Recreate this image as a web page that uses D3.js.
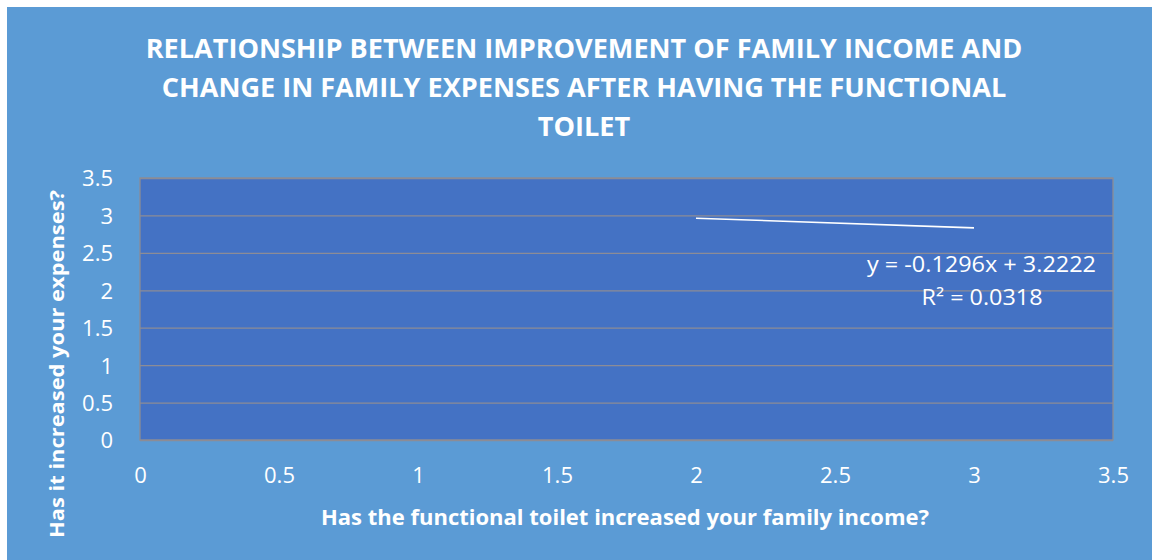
<!DOCTYPE html>
<html>
<head>
<meta charset="utf-8">
<script src="https://cdn.jsdelivr.net/npm/d3@7/dist/d3.min.js"></script>
<style>
  html, body { margin: 0; padding: 0; background: #ffffff; }
  svg { display: block; }
  text { font-family: "Open Sans", "Noto Sans", sans-serif; fill: #ffffff; }
</style>
</head>
<body>
<svg id="chart" width="1152" height="560"></svg>
<script>
// Axis ticks
const xTicks = [0, 0.5, 1, 1.5, 2, 2.5, 3, 3.5];
const yTicks = [0, 0.5, 1, 1.5, 2, 2.5, 3, 3.5];
const xTickLabels = ["0", "0.5", "1", "1.5", "2", "2.5", "3", "3.5"];
const yTickLabels = ["0", "0.5", "1", "1.5", "2", "2.5", "3", "3.5"];

// Linear trendline fitted to the survey responses
const trendXRange = [2, 3];
const trendSlope = -0.1296;
const trendIntercept = 3.2222;
const trendR2 = 0.0318;

const titleLines = [
  "RELATIONSHIP BETWEEN IMPROVEMENT OF FAMILY INCOME AND",
  "CHANGE IN FAMILY EXPENSES AFTER HAVING THE FUNCTIONAL",
  "TOILET"
];
const xTitle = "Has the functional toilet increased your family income?";
const yTitle = "Has it increased your expenses?";

const W = 1152, H = 560;
const svg = d3.select("#chart");

// chart background
svg.append("rect").attr("x", 7).attr("y", 7).attr("width", W - 7).attr("height", H - 7)
  .attr("fill", "#5b9bd5");

const plot = { left: 140, right: 1113, top: 178, bottom: 440 };

const x = d3.scaleLinear().domain([0, 3.5]).range([plot.left, plot.right]);
const y = d3.scaleLinear().domain([0, 3.5]).range([plot.bottom, plot.top]);

// plot area
svg.append("rect")
  .attr("x", plot.left).attr("y", plot.top)
  .attr("width", plot.right - plot.left).attr("height", plot.bottom - plot.top)
  .attr("fill", "#4472c4");

// horizontal gridlines
svg.append("g")
  .attr("transform", `translate(${plot.left},0)`)
  .call(d3.axisLeft(y).tickValues(yTicks).tickSize(-(plot.right - plot.left)).tickFormat(""))
  .call(g => g.select(".domain").remove())
  .call(g => g.selectAll("line").attr("stroke", "#8c8c96").attr("stroke-width", 1.3));

// plot border
svg.append("rect")
  .attr("x", plot.left).attr("y", plot.top)
  .attr("width", plot.right - plot.left).attr("height", plot.bottom - plot.top)
  .attr("fill", "none").attr("stroke", "#8c8c96").attr("stroke-width", 1.3);

// y axis labels
svg.append("g")
  .attr("transform", `translate(${plot.left - 27},0)`)
  .call(d3.axisLeft(y).tickValues(yTicks).tickSize(0).tickPadding(0)
    .tickFormat((d, i) => yTickLabels[i]))
  .call(g => g.select(".domain").remove())
  .call(g => g.selectAll("text")
    .attr("font-size", 22).attr("fill", "#ffffff")
    .attr("font-family", "'Open Sans', sans-serif")
    .attr("dy", "0.36em"));

// x axis labels
svg.append("g")
  .attr("transform", `translate(0,${plot.bottom})`)
  .call(d3.axisBottom(x).tickValues(xTicks).tickSize(0).tickPadding(0)
    .tickFormat((d, i) => xTickLabels[i]))
  .call(g => g.select(".domain").remove())
  .call(g => g.selectAll("text")
    .attr("font-size", 22).attr("fill", "#ffffff")
    .attr("font-family", "'Open Sans', sans-serif")
    .attr("dy", null).attr("y", 43));

// trendline
const trendPts = trendXRange.map(v => [v, trendSlope * v + trendIntercept]);
svg.append("path")
  .datum(trendPts)
  .attr("d", d3.line().x(d => x(d[0])).y(d => y(d[1])))
  .attr("stroke", "#ffffff").attr("stroke-width", 1.6).attr("fill", "none");

// fit a text element's font-size to a target width
function fitWidth(sel, target) {
  const node = sel.node();
  const fs = parseFloat(sel.attr("font-size"));
  const w = node.getComputedTextLength();
  sel.attr("font-size", (fs * target / w).toFixed(2));
}

// squeeze a text element horizontally to a target width (narrow face look)
function squeeze(sel, target) {
  sel.attr("textLength", target).attr("lengthAdjust", "spacingAndGlyphs");
}

// trendline equation
const eq = svg.append("text")
  .attr("x", 1096).attr("y", 272).attr("text-anchor", "end")
  .attr("font-size", 21)
  .text(`y = ${trendSlope}x + ${trendIntercept}`);
squeeze(eq, 229);

const r2 = svg.append("text")
  .attr("x", 982).attr("y", 305).attr("text-anchor", "middle")
  .attr("font-size", 21);
r2.append("tspan").text("R");
r2.append("tspan").text("²");
r2.append("tspan").text(` = ${trendR2}`);
squeeze(r2, 121);

// title
const titleBaselines = [58, 97, 136];
const t0 = svg.append("text").attr("x", 584).attr("y", titleBaselines[0])
  .attr("text-anchor", "middle").attr("font-weight", "bold").attr("font-size", 26)
  .text(titleLines[0]);
fitWidth(t0, 877);
const titleSize = t0.attr("font-size");
titleLines.slice(1).forEach((line, i) => {
  svg.append("text").attr("x", 584).attr("y", titleBaselines[i + 1])
    .attr("text-anchor", "middle").attr("font-weight", "bold").attr("font-size", titleSize)
    .text(line);
});

// axis titles
const xt = svg.append("text").attr("x", 625).attr("y", 525)
  .attr("text-anchor", "middle").attr("font-weight", "bold").attr("font-size", 21)
  .text(xTitle);
squeeze(xt, 608);

const yt = svg.append("text")
  .attr("transform", "translate(64,364) rotate(-90)")
  .attr("text-anchor", "middle").attr("font-weight", "bold").attr("font-size", 20)
  .text(yTitle);
squeeze(yt, 348);
</script>
</body>
</html>
